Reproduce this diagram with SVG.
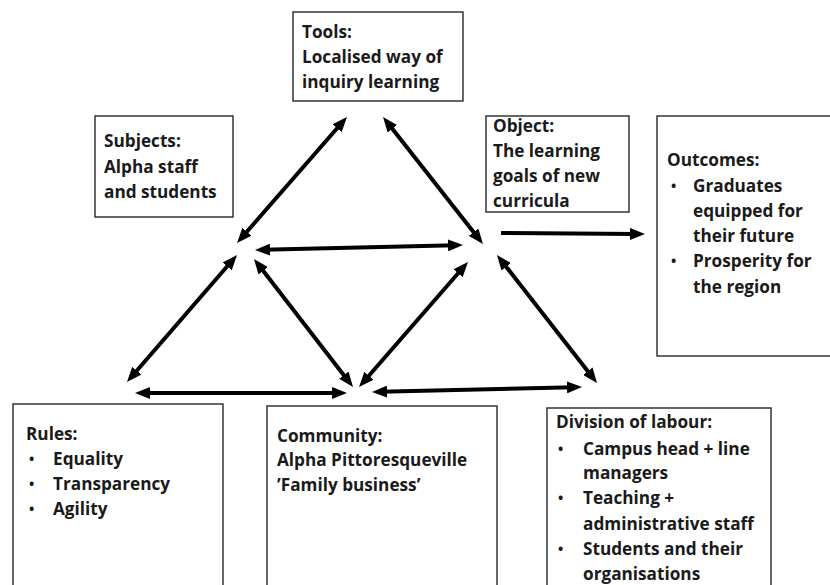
<svg xmlns="http://www.w3.org/2000/svg" width="830" height="585" viewBox="0 0 830 585">
<style>
.box{fill:#fff;stroke:#262626;stroke-width:1.4}
.t{font-family:"Open Sans","Noto Sans","Liberation Sans",sans-serif;font-weight:bold;font-size:17.2px;fill:#1a1a1a}
.b{font-family:"Open Sans","Noto Sans","Liberation Sans",sans-serif;font-weight:bold;font-size:14px;fill:#1a1a1a}
.c{fill:none;stroke:#000;stroke-width:4}
</style>
<defs>
<marker id="ah" viewBox="0 0 15 12" markerWidth="15" markerHeight="12" markerUnits="userSpaceOnUse" refX="7" refY="6" orient="auto-start-reverse">
<path d="M0,0 L15,6 L0,12 z" fill="#000"/>
</marker>
</defs>
<rect width="830" height="585" fill="#fff"/>
<g id="tools">
<rect class="box" x="293" y="12" width="170" height="89"/>
<text class="t" x="302" y="38">Tools:</text>
<text class="t" x="302" y="63">Localised way of</text>
<text class="t" x="302" y="88">inquiry learning</text>
</g>
<g id="subjects">
<rect class="box" x="95" y="116" width="138" height="101"/>
<text class="t" x="104" y="147">Subjects:</text>
<text class="t" x="104" y="173">Alpha staff</text>
<text class="t" x="104" y="198">and students</text>
</g>
<g id="object">
<rect class="box" x="486" y="116" width="143" height="96"/>
<text class="t" x="493" y="132">Object:</text>
<text class="t" x="493" y="157">The learning</text>
<text class="t" x="493" y="182">goals of new</text>
<text class="t" x="493" y="207">curricula</text>
</g>
<g id="outcomes">
<rect class="box" x="657" y="116" width="190" height="240"/>
<text class="t" x="667" y="166">Outcomes:</text>
<text class="b" x="671" y="191">•</text>
<text class="t" x="693" y="192">Graduates</text>
<text class="t" x="693" y="217">equipped for</text>
<text class="t" x="693" y="242">their future</text>
<text class="b" x="671" y="266">•</text>
<text class="t" x="693" y="267">Prosperity for</text>
<text class="t" x="693" y="293">the region</text>
</g>
<g id="rules">
<rect class="box" x="13" y="404" width="210" height="200"/>
<text class="t" x="26" y="440">Rules:</text>
<text class="b" x="29" y="464">•</text>
<text class="t" x="53" y="465">Equality</text>
<text class="b" x="29" y="489">•</text>
<text class="t" x="53" y="490">Transparency</text>
<text class="b" x="29" y="514">•</text>
<text class="t" x="53" y="515">Agility</text>
</g>
<g id="community">
<rect class="box" x="267" y="406" width="230" height="200"/>
<text class="t" x="277" y="442">Community:</text>
<text class="t" x="277" y="466">Alpha Pittoresqueville</text>
<text class="t" x="277" y="491">’Family business’</text>
</g>
<g id="division">
<rect class="box" x="547" y="408" width="224" height="200"/>
<text class="t" x="556" y="428">Division of labour:</text>
<text class="b" x="558" y="454">•</text>
<text class="t" x="583" y="455">Campus head + line</text>
<text class="t" x="583" y="479">managers</text>
<text class="b" x="558" y="503">•</text>
<text class="t" x="583" y="504">Teaching +</text>
<text class="t" x="583" y="530">administrative staff</text>
<text class="b" x="558" y="554">•</text>
<text class="t" x="583" y="555">Students and their</text>
<text class="t" x="583" y="580">organisations</text>
</g>
<g id="connectors">
<line class="c" x1="242.3" y1="237" x2="341.7" y2="123" marker-start="url(#ah)" marker-end="url(#ah)"/>
<line class="c" x1="388" y1="123.3" x2="478" y2="237.7" marker-start="url(#ah)" marker-end="url(#ah)"/>
<line class="c" x1="263" y1="249.8" x2="455" y2="245.2" marker-start="url(#ah)" marker-end="url(#ah)"/>
<line class="c" x1="501" y1="233" x2="637" y2="234" marker-end="url(#ah)"/>
<line class="c" x1="231.8" y1="261" x2="132.2" y2="376" marker-start="url(#ah)" marker-end="url(#ah)"/>
<line class="c" x1="258.9" y1="265.3" x2="348.1" y2="380.7" marker-start="url(#ah)" marker-end="url(#ah)"/>
<line class="c" x1="462.7" y1="268" x2="364.3" y2="381" marker-start="url(#ah)" marker-end="url(#ah)"/>
<line class="c" x1="501.9" y1="261.3" x2="592.1" y2="376.7" marker-start="url(#ah)" marker-end="url(#ah)"/>
<line class="c" x1="143" y1="393" x2="339" y2="393" marker-start="url(#ah)" marker-end="url(#ah)"/>
<line class="c" x1="380" y1="391.8" x2="574" y2="387.2" marker-start="url(#ah)" marker-end="url(#ah)"/>
</g>
</svg>
